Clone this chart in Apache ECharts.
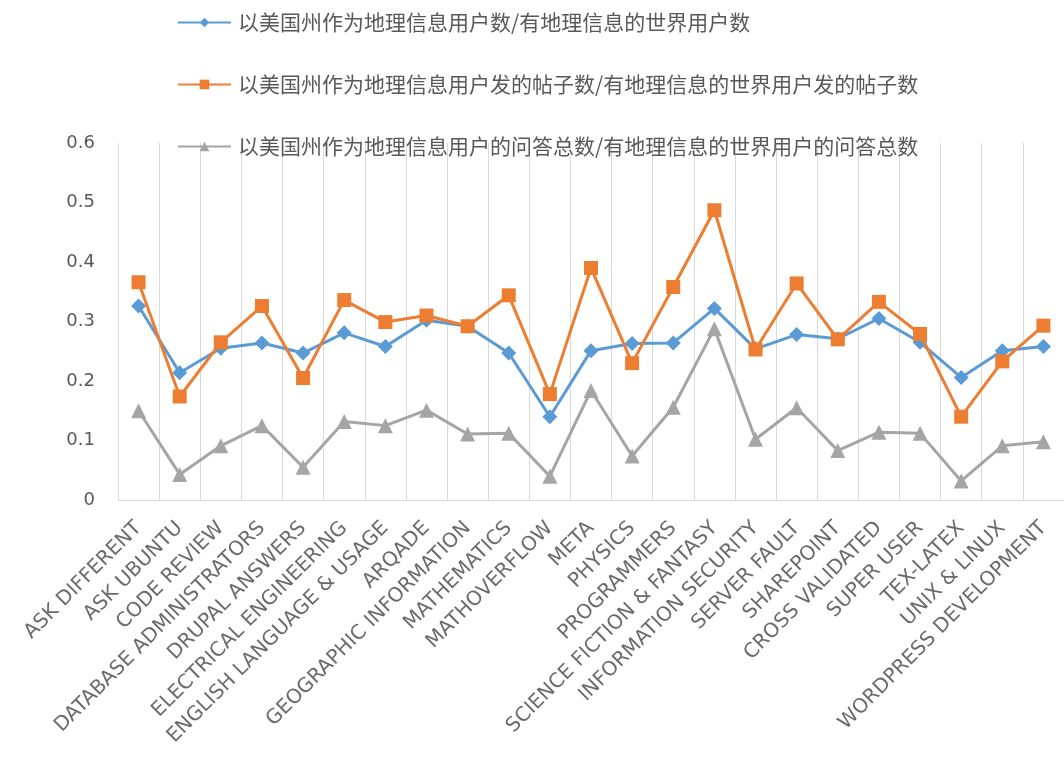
<!DOCTYPE html>
<html>
<head>
<meta charset="utf-8">
<script src="https://cdn.jsdelivr.net/npm/echarts@6/dist/echarts.min.js"></script>
<style>
html,body{margin:0;padding:0;background:#fff;}
#chart{width:1064px;height:769px;}
</style>
</head>
<body>
<div id="chart"></div>
<script>
var categories = ['ASK DIFFERENT','ASK UBUNTU','CODE REVIEW','DATABASE ADMINISTRATORS','DRUPAL ANSWERS','ELECTRICAL ENGINEERING','ENGLISH LANGUAGE & USAGE','ARQADE','GEOGRAPHIC INFORMATION','MATHEMATICS','MATHOVERFLOW','META','PHYSICS','PROGRAMMERS','SCIENCE FICTION & FANTASY','INFORMATION SECURITY','SERVER FAULT','SHAREPOINT','CROSS VALIDATED','SUPER USER','TEX-LATEX','UNIX & LINUX','WORDPRESS DEVELOPMENT'];
var seriesNames = ['以美国州作为地理信息用户数/有地理信息的世界用户数','以美国州作为地理信息用户发的帖子数/有地理信息的世界用户发的帖子数','以美国州作为地理信息用户的问答总数/有地理信息的世界用户的问答总数'];
var usersRatio = [0.326,0.214,0.255,0.264,0.247,0.281,0.258,0.302,0.292,0.247,0.140,0.251,0.263,0.264,0.322,0.254,0.278,0.271,0.305,0.265,0.206,0.251,0.258];
var postsRatio = [0.366,0.174,0.265,0.326,0.205,0.336,0.299,0.310,0.292,0.344,0.178,0.390,0.230,0.358,0.487,0.253,0.364,0.270,0.333,0.279,0.140,0.233,0.293];
var qaRatio = [0.150,0.043,0.091,0.125,0.055,0.132,0.125,0.151,0.111,0.112,0.040,0.184,0.074,0.156,0.288,0.102,0.155,0.083,0.114,0.112,0.032,0.091,0.098];
var yTicks = [0,0.1,0.2,0.3,0.4,0.5,0.6];

var colors = ['#5B9BD5','#ED7D31','#A5A5A5'];
var symbols = ['diamond','rect','triangle'];
var symbolSizes = [15,14,15];
var dataSets = [usersRatio, postsRatio, qaRatio];

var chart = echarts.init(document.getElementById('chart'), null, {renderer:'canvas'});
var option = {
  animation:false,
  backgroundColor:'#ffffff',
  color: colors,
  legend:{
    orient:'vertical',
    left:172, top:7,
    itemWidth:53, itemHeight:12, itemGap:41,
    selectedMode:false,
    textStyle:{color:'#595959', fontSize:21, lineHeight:21, fontFamily:'"Noto Sans CJK SC", sans-serif', padding:[0,0,0,2]},
    data: seriesNames
  },
  grid:{left:118, right:-4, top:143, bottom:269, containLabel:false},
  xAxis:{
    type:'category',
    data:categories,
    boundaryGap:true,
    axisLine:{show:true, lineStyle:{color:'#d9d9d9', width:1}},
    axisTick:{show:false},
    splitLine:{show:true, lineStyle:{color:'#d9d9d9', width:1}},
    axisLabel:{interval:0, rotate:45, margin:25, color:'#6a6a6a', fontSize:20, fontFamily:'"DejaVu Sans", sans-serif'}
  },
  yAxis:{
    type:'value', min:yTicks[0], max:yTicks[yTicks.length-1], interval:0.1,
    axisLine:{show:false}, axisTick:{show:false}, splitLine:{show:false},
    axisLabel:{margin:23, color:'#595959', fontSize:18, fontFamily:'"DejaVu Sans", sans-serif',
      formatter:function(v){ return String(Math.round(v*10)/10); }}
  },
  series: seriesNames.map(function(n,i){
    return {
      name:n, type:'line', data:dataSets[i],
      symbol:symbols[i], symbolSize:symbolSizes[i],
      lineStyle:{width:3, color:colors[i]},
      itemStyle:{color:colors[i]},
      z: 2+i
    };
  })
};
chart.setOption(option);
</script>
</body>
</html>
